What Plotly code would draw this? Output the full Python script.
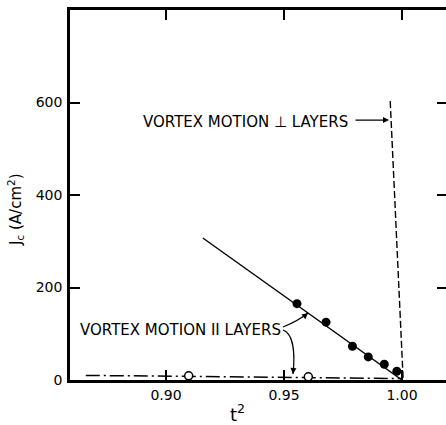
import plotly.graph_objects as go

# ---- data ----
filled_t2 = [0.9555, 0.9678, 0.9790, 0.9857, 0.9925, 0.9978]
filled_jc = [165, 125, 73, 50, 34, 19]
open_t2 = [0.9096, 0.9603]
open_jc = [9, 7]
fit_t2 = [0.9156, 1.000]
fit_jc = [307, 0]
perp_t2 = [0.9950, 1.0005]
perp_jc = [603, 0]
par_t2 = [0.866, 1.000]
par_jc = [10, 3]

x_ticks = [0.90, 0.95, 1.00]
x_ticktext = ["0.90", "0.95", "1.00"]
y_ticks = [0, 200, 400, 600]
y_ticktext = ["0", "200", "400", "600"]

X_RANGE = [0.85932, 1.01864]
Y_RANGE = [0, 800]

FONT = "DejaVu Sans"
BLK = "black"

fig = go.Figure()

fig.add_trace(go.Scatter(x=par_t2, y=par_jc, mode="lines",
                         line=dict(color=BLK, width=1.5, dash="14px,4px,2px,4px"),
                         showlegend=False, hoverinfo="skip"))
fig.add_trace(go.Scatter(x=fit_t2, y=fit_jc, mode="lines",
                         line=dict(color=BLK, width=1.4), showlegend=False))
fig.add_trace(go.Scatter(x=perp_t2, y=perp_jc, mode="lines",
                         line=dict(color=BLK, width=1.4, dash="7px,3px"), showlegend=False))
fig.add_trace(go.Scatter(x=filled_t2, y=filled_jc, mode="markers",
                         marker=dict(color=BLK, size=9, line=dict(width=0)), showlegend=False))
fig.add_trace(go.Scatter(x=open_t2, y=open_jc, mode="markers",
                         marker=dict(color="white", size=8, line=dict(color=BLK, width=1.5)),
                         showlegend=False))
# invisible trace for the right-hand tick axis
fig.add_trace(go.Scatter(x=[X_RANGE[0]], y=[Y_RANGE[0]], yaxis="y2", mode="markers",
                         marker=dict(opacity=0), showlegend=False, hoverinfo="skip"))

# curved arrows for "VORTEX MOTION II LAYERS"
fig.add_shape(type="path", xref="x", yref="y",
              path="M 0.94957,114.6 Q 0.95593,127.6 0.96017,144.9",
              line=dict(color=BLK, width=1.2))
fig.add_shape(type="path", xref="x", yref="y",
              path="M 0.94957,108.1 C 0.95424,99.5 0.95466,54 0.95381,13",
              line=dict(color=BLK, width=1.2))

ann = []
ann.append(dict(x=0.93347, y=558, xref="x", yref="y", text="VORTEX MOTION ⊥ LAYERS",
                showarrow=False, font=dict(family=FONT, size=15, color=BLK)))
ann.append(dict(x=0.99449, y=562, xref="x", yref="y", text="", showarrow=True,
                ax=-35, ay=0, arrowhead=2, arrowsize=1, arrowwidth=1.2, arrowcolor=BLK))
ann.append(dict(x=0.90635, y=108, xref="x", yref="y", text="VORTEX MOTION II LAYERS",
                showarrow=False, font=dict(family=FONT, size=15, color=BLK)))
ann.append(dict(x=0.96017, y=144.9, xref="x", yref="y", text="", showarrow=True,
                ax=-6, ay=5, arrowhead=2, arrowsize=1, arrowwidth=1.2, arrowcolor=BLK))
ann.append(dict(x=0.95381, y=13, xref="x", yref="y", text="", showarrow=True,
                ax=0.5, ay=-7, arrowhead=2, arrowsize=1, arrowwidth=1.2, arrowcolor=BLK))
# axis titles
ann.append(dict(x=237, y=413, text="t<sup>2</sup>",
                showarrow=False, font=dict(family=FONT, size=18, color=BLK)))
ann.append(dict(x=15, y=210, text="J<sub>c</sub> (A/cm<sup>2</sup>)", showarrow=False,
                textangle=-90, font=dict(family=FONT, size=15, color=BLK)))

# convert pixel-positioned titles to paper coords
W, H = 446, 425
ML, MR, MT, MB = 70, 0, 10, 45
pw, ph = W - ML - MR, H - MT - MB
for a in ann[-2:]:
    px, py = a["x"], a["y"]
    a["x"] = (px - ML) / pw
    a["y"] = (H - MB - py) / ph
    a["xref"] = "paper"
    a["yref"] = "paper"
    a["xanchor"] = "center"
    a["yanchor"] = "middle"

fig.update_layout(
    width=W, height=H,
    margin=dict(l=ML, r=MR, t=MT, b=MB, pad=0),
    plot_bgcolor="white", paper_bgcolor="white",
    font=dict(family=FONT, size=14, color=BLK),
    showlegend=False,
    annotations=ann,
    xaxis=dict(range=X_RANGE, tickvals=x_ticks, ticktext=x_ticktext,
               ticks="inside", ticklen=10, tickwidth=2, tickcolor=BLK,
               showline=True, linewidth=2.5, linecolor=BLK, mirror="ticks",
               showgrid=False, zeroline=False, ticklabelstandoff=0,
               tickfont=dict(family=FONT, size=14, color=BLK)),
    yaxis=dict(range=Y_RANGE, tickvals=y_ticks, ticktext=y_ticktext,
               ticks="inside", ticklen=10, tickwidth=2, tickcolor=BLK,
               showline=True, linewidth=2.5, linecolor=BLK, mirror=False,
               showgrid=False, zeroline=False, ticklabelstandoff=2,
               tickfont=dict(family=FONT, size=14, color=BLK)),
    yaxis2=dict(range=Y_RANGE, overlaying="y", side="right", tickvals=[200, 400, 600],
                ticks="inside", ticklen=9, tickwidth=2, tickcolor=BLK,
                showticklabels=False, showline=False, showgrid=False, zeroline=False),
)

fig.write_html("out.html")
